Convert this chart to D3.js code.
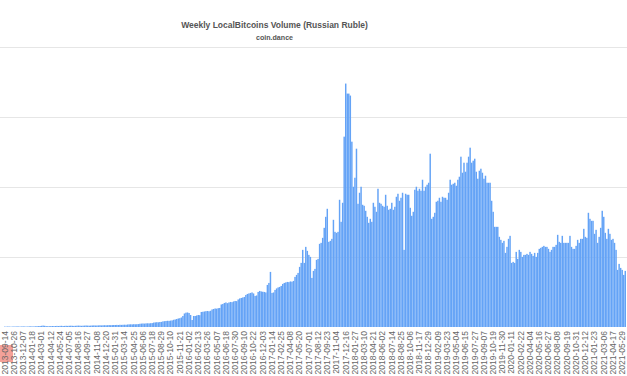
<!DOCTYPE html>
<html>
<head>
<meta charset="utf-8">
<script src="https://cdn.jsdelivr.net/npm/d3@7"></script>
<style>
  body { margin: 0; background: #fff; }
  svg { display: block; }
</style>
</head>
<body>
<svg id="chart"></svg>
<script>
const width = 627, height = 376;

// weekly volume (y axis labels are hidden in the reference)
const firstWeek = "2013-09-14";
const volume = [
  4,3,5,4,3,4,5,4,6,5,4,5,6,5,4,5,6,7,5,6,7,8,9,10,12,
  14,12,9,8,8,
  9,10,9,10,11,10,11,12,10,11,12,11,12,13,12,11,12,13,14,13,12,13,14,15,14,13,14,15,16,15,
  15,16,17,16,17,18,17,18,19,18,19,20,
  20,21,20,22,21,22,23,22,
  25,26,27,26,28,27,28,29,
  32,34,35,34,36,37,36,38,39,
  44,46,48,47,50,51,
  56,58,60,62,61,64,66,
  72,75,80,85,88,95,
  110,135,143,145,140,120,70,110,
  110,115,120,118,
  150,152,155,158,160,157,162,
  175,180,185,183,188,190,
  225,230,240,245,238,
  245,250,248,255,260,258,
  275,285,290,295,300,
  320,330,335,
  340,345,335,
  310,315,
  350,360,355,352,
  350,345,
  420,440,
  550,340,345,
  370,385,395,400,410,
  430,440,445,
  450,448,455,452,460,
  500,520,540,600,
  640,770,640,800,
  760,720,700,
  490,560,580,670,680,
  830,840,890,990,1100,1180,
  850,860,880,1070,950,940,950,1270,1050,1240,1900,
  2430,2330,2330,2310,1850,1400,1490,1780,1230,1340,1400,1220,1210,1160,1100,1040,1080,1050,1240,1200,
  1150,1380,1240,1230,1210,1200,1320,1210,1170,1180,1240,1170,1200,1300,1330,1260,1290,1340,770,
  1330,1320,1320,1190,1110,1150,1370,1400,1360,1380,1360,1470,1360,1400,1420,1440,1730,1080,1100,1140,
  1250,1260,1290,1250,1300,1290,1290,1270,1340,1470,1420,1430,1440,1410,1470,1500,1700,1540,1640,1550,
  1640,1700,1790,1640,1660,1680,1550,1480,1560,1580,1540,1480,1510,1440,1440,1440,1260,1150,1000,1000,
  1000,900,870,840,860,740,800,880,910,640,650,640,750,680,770,750,700,720,720,730,
  720,750,730,710,740,700,740,780,790,800,810,800,800,780,750,770,800,800,820,920,
  850,840,910,840,840,840,840,910,800,780,780,810,870,840,880,880,980,900,890,1140,
  1080,1060,1060,930,970,840,900,990,1160,1100,940,880,980,930,870,880,840,770,570,630,
  590,570,520,560
];

const tickLabels = [
  "2013-09-14","2013-10-26","2013-12-07","2014-01-18","2014-03-01","2014-04-12","2014-05-24",
  "2014-07-05","2014-08-16","2014-09-27","2014-11-08","2014-12-20","2015-01-31","2015-03-14",
  "2015-04-25","2015-06-06","2015-07-18","2015-08-29","2015-10-10","2015-11-21","2016-01-02",
  "2016-02-13","2016-03-26","2016-05-07","2016-06-18","2016-07-30","2016-09-10","2016-10-22",
  "2016-12-03","2017-01-14","2017-02-25","2017-04-08","2017-05-20","2017-07-01","2017-08-12",
  "2017-09-23","2017-11-04","2017-12-16","2018-01-27","2018-03-10","2018-04-21","2018-06-02",
  "2018-07-14","2018-08-25","2018-10-06","2018-11-17","2018-12-29","2019-02-09","2019-03-23",
  "2019-05-04","2019-06-15","2019-07-27","2019-09-07","2019-10-19","2019-11-30","2020-01-11",
  "2020-02-22","2020-04-04","2020-05-16","2020-06-27","2020-08-08","2020-09-19","2020-10-31",
  "2020-12-12","2021-01-23","2021-03-06","2021-04-17","2021-05-29"
];

const yTicks = [0, 700, 1400, 2100, 2800];

const parse = d3.utcParse("%Y-%m-%d"), fmt = d3.utcFormat("%Y-%m-%d");
const weeks = volume.map((_, i) => fmt(d3.utcDay.offset(parse(firstWeek), 7 * i)));
const data = weeks.map((w, i) => ({ week: w, value: volume[i] }));

const baseY = 327;

const svg = d3.select("#chart")
    .attr("width", width)
    .attr("height", height);

const x = d3.scaleBand()
    .domain(weeks)
    .range([4, 626])
    .paddingInner(0.05)
    .paddingOuter(0);

const y = d3.scaleLinear()
    .domain([0, 2800])
    .range([baseY, 46.5]);

// gridlines
svg.append("g")
    .selectAll("line")
    .data(yTicks.slice(1))
    .join("line")
    .attr("x1", 0)
    .attr("x2", width)
    .attr("y1", d => Math.round(y(d)) + 0.5)
    .attr("y2", d => Math.round(y(d)) + 0.5)
    .attr("stroke", "#e6e6e6")
    .attr("stroke-width", 1);

// bars
svg.append("g")
    .selectAll("rect")
    .data(data)
    .join("rect")
    .attr("x", d => x(d.week))
    .attr("y", d => y(d.value))
    .attr("width", x.bandwidth())
    .attr("height", d => y(0) - y(d.value))
    .attr("fill", "#64a3f6");

// highlighted first label box
svg.append("rect")
    .attr("x", 0)
    .attr("y", 345)
    .attr("width", 13)
    .attr("height", 17)
    .attr("fill", "#f4a199");

// x axis
const xAxis = svg.append("g")
    .attr("transform", `translate(0,${baseY})`)
    .call(d3.axisBottom(x)
        .tickValues(tickLabels.filter(t => weeks.includes(t)))
        .tickSize(0));

xAxis.select(".domain").remove();
xAxis.selectAll("text")
    .attr("transform", "rotate(-90)")
    .attr("text-anchor", "end")
    .attr("x", -4)
    .attr("y", 0)
    .attr("dy", "0.33em")
    .style("font-family", "'Liberation Sans', Arial, sans-serif")
    .style("font-size", "8.5px")
    .style("fill", "#666");

// titles
svg.append("text")
    .attr("x", 274.5)
    .attr("y", 28.3)
    .attr("text-anchor", "middle")
    .style("font-family", "'Liberation Sans', Arial, sans-serif")
    .style("font-weight", "bold")
    .style("font-size", "8.5px")
    .style("fill", "#555")
    .text("Weekly LocalBitcoins Volume (Russian Ruble)");

svg.append("text")
    .attr("x", 274.5)
    .attr("y", 39.5)
    .attr("text-anchor", "middle")
    .style("font-family", "'Liberation Sans', Arial, sans-serif")
    .style("font-weight", "bold")
    .style("font-size", "7.1px")
    .style("fill", "#555")
    .text("coin.dance");
</script>
</body>
</html>
